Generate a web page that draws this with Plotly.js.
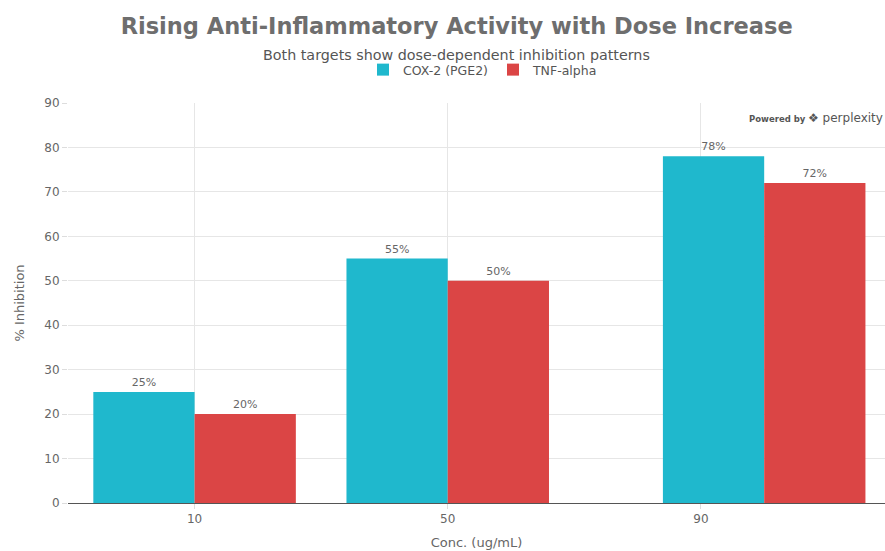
<!DOCTYPE html>
<html>
<head>
<meta charset="utf-8">
<script src="https://cdn.plot.ly/plotly-3.0.1.min.js"></script>
<style>html,body{margin:0;padding:0;background:#fff;}#chart{width:885px;height:551px;}</style>
</head>
<body>
<div id="chart"></div>
<script>
// Data
const seriesNames = ["COX-2 (PGE2)", "TNF-alpha"];
const concentrations = [10, 50, 100];   // group positions as read on the linear x axis
const tickValues = [10, 50, 90];        // x tick labels shown on the axis
const cox2Values = [25, 55, 78];
const tnfValues = [20, 50, 72];

const colors = ["#1FB8CD", "#DB4545"];
const fontFamily = "DejaVu Sans, Verdana, sans-serif";

const traces = [
  {
    type: "bar", name: seriesNames[0], x: concentrations, y: cox2Values,
    marker: {color: colors[0], line: {width: 0}},
    texttemplate: "%{y}%", textposition: "outside", cliponaxis: false,
    textfont: {family: fontFamily, size: 11, color: "#666"}
  },
  {
    type: "bar", name: seriesNames[1], x: concentrations, y: tnfValues,
    marker: {color: colors[1], line: {width: 0}},
    texttemplate: "%{y}%", textposition: "outside", cliponaxis: false,
    textfont: {family: fontFamily, size: 11, color: "#666"}
  }
];

const layout = {
  width: 885, height: 551,
  margin: {l: 68, r: 0, t: 103, b: 48},
  paper_bgcolor: "#fff", plot_bgcolor: "#fff",
  font: {family: fontFamily, color: "#666"},
  barmode: "group", bargap: 0.2, bargroupgap: 0,
  title: {
    text: "<b>Rising Anti-Inflammatory Activity with Dose Increase</b>",
    font: {family: "DejaVu Sans, Verdana, sans-serif", size: 22.5, color: "#6e6e6e"},
    x: 0.516, xref: "container", xanchor: "center",
    y: 1 - 26 / 551, yref: "container", yanchor: "middle"
  },
  annotations: [
    {
      text: "Both targets show dose-dependent inhibition patterns",
      xref: "paper", yref: "paper", x: (456 - 68) / 817, y: 1 + (103 - 55) / 400,
      xanchor: "center", yanchor: "middle", showarrow: false,
      font: {family: fontFamily, size: 14.3, color: "#555"}
    },
    {
      text: "<b>Powered by</b> <span style='font-size:12px'>\u2756 perplexity</span>",
      xref: "paper", yref: "paper", x: 1, y: 1 - (118 - 103) / 400,
      xanchor: "right", yanchor: "middle", showarrow: false,
      font: {family: fontFamily, size: 8.5, color: "#555"}
    }
  ],
  shapes: [
    {type: "line", xref: "paper", yref: "y", x0: 0, x1: 1, y0: 90, y1: 90,
     line: {color: "#fff", width: 2}, layer: "between"}
  ],
  legend: {
    orientation: "h", x: (483 - 68) / 817, xanchor: "center",
    y: 1 + (103 - 70) / 400, yanchor: "middle",
    font: {family: fontFamily, size: 12.5, color: "#555"},
    itemwidth: 30,
    bgcolor: "rgba(0,0,0,0)"
  },
  xaxis: {
    type: "linear", range: [-10, 10 + (885 - 195) / 6.325],
    tickmode: "array", tickvals: tickValues, ticktext: tickValues.map(String),
    showgrid: true, gridcolor: "#e6e6e6", gridwidth: 1,
    showline: true, linecolor: "#555", linewidth: 1,
    ticks: "outside", ticklen: 5, tickcolor: "#ddd",
    tickfont: {family: fontFamily, size: 12, color: "#666"},
    zeroline: false,
    title: {text: "Conc. (ug/mL)", font: {family: fontFamily, size: 13, color: "#666"}, standoff: 12}
  },
  yaxis: {
    range: [0, 90], dtick: 10,
    showgrid: true, gridcolor: "#e6e6e6", gridwidth: 1,
    zeroline: false, showline: false,
    ticks: "outside", ticklen: 5, tickcolor: "#ddd",
    tickfont: {family: fontFamily, size: 12, color: "#666"},
    title: {text: "% Inhibition", font: {family: fontFamily, size: 13, color: "#666"}, standoff: 16}
  }
};

Plotly.newPlot("chart", traces, layout, {displayModeBar: false, staticPlot: true});
</script>
</body>
</html>
